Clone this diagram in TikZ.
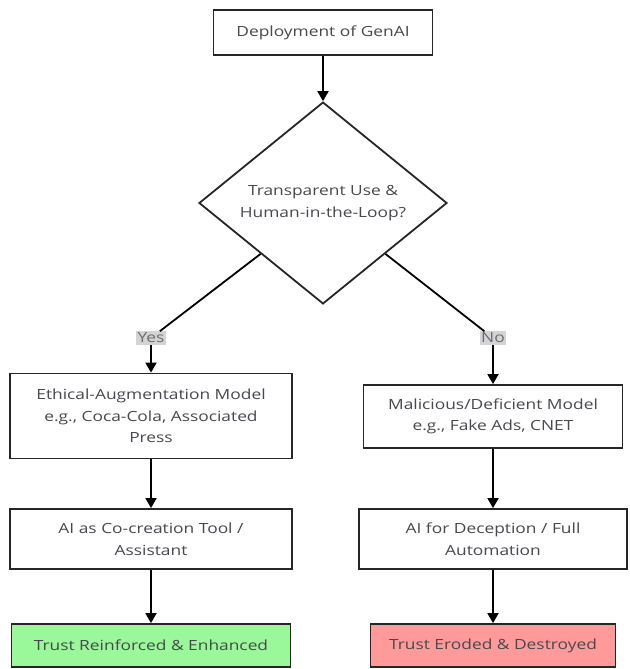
\documentclass[tikz,border=0pt]{standalone}
\usepackage{fontspec}
\setmainfont{Open Sans}[FakeStretch=1.24]
\usetikzlibrary{arrows.meta,shapes.geometric}
\definecolor{txtgray}{HTML}{48484F}
\definecolor{lblgray}{HTML}{6C6C74}
\definecolor{lblfill}{HTML}{D4D4D4}
\definecolor{okgreen}{HTML}{9AF79A}
\definecolor{badred}{HTML}{FF9A9A}
\tikzset{
  box/.style={draw=black!85, line width=1.8pt, fill=white, align=center, text=txtgray,
    font=\fontsize{14}{21.5}\selectfont, inner sep=0pt},
  decide/.style={diamond, draw=black!85, line width=1.8pt, align=center, text=txtgray,
    font=\fontsize{14}{22}\selectfont, inner sep=0pt, minimum width=248pt, minimum height=200pt},
  answer/.style={fill=lblfill, text=lblgray, font=\fontsize{14}{15}\selectfont, inner sep=1.5pt},
  flow/.style={line width=1.8pt, -{Triangle[width=11pt,length=10pt]}},
  link/.style={line width=1.8pt}
}
\begin{document}
\begin{tikzpicture}[x=1pt,y=-1pt]
\useasboundingbox (0,0) rectangle (629,669);
\node[box, minimum width=219pt, minimum height=45pt] (deploy) at (323,32.5) {Deployment of GenAI};
\node[decide] (check) at (323,203) {Transparent Use \&\\Human-in-the-Loop?};
\node[answer] (yes) at (151,338) {Yes};
\node[answer] (no) at (493,338) {No};
\node[box, minimum width=282pt, minimum height=85pt] (ethic) at (151,416) {Ethical-Augmentation Model\\e.g., Coca-Cola, Associated\\Press};
\node[box, minimum width=259pt, minimum height=63pt] (malic) at (493,416.5) {Malicious/Deficient Model\\e.g., Fake Ads, CNET};
\node[box, minimum width=282pt, minimum height=60pt] (cocreate) at (151,539) {AI as Co-creation Tool /\\Assistant};
\node[box, minimum width=268pt, minimum height=60pt] (deceive) at (493,539) {AI for Deception / Full\\Automation};
\node[box, fill=okgreen, minimum width=279pt, minimum height=43pt] (trustup) at (151,645.5) {Trust Reinforced \& Enhanced};
\node[box, fill=badred, minimum width=245pt, minimum height=43pt] (trustdown) at (493,645.5) {Trust Eroded \& Destroyed};
% connectors
\draw[flow] (deploy) -- (check);
\draw[link] (check.south west) -- (yes);
\draw[link] (check.south east) -- (no);
\draw[flow] (yes) -- (ethic);
\draw[flow] (no) -- (malic);
\draw[flow] (ethic) -- (cocreate);
\draw[flow] (malic) -- (deceive);
\draw[flow] (cocreate) -- (trustup);
\draw[flow] (deceive) -- (trustdown);
\end{tikzpicture}
\end{document}
